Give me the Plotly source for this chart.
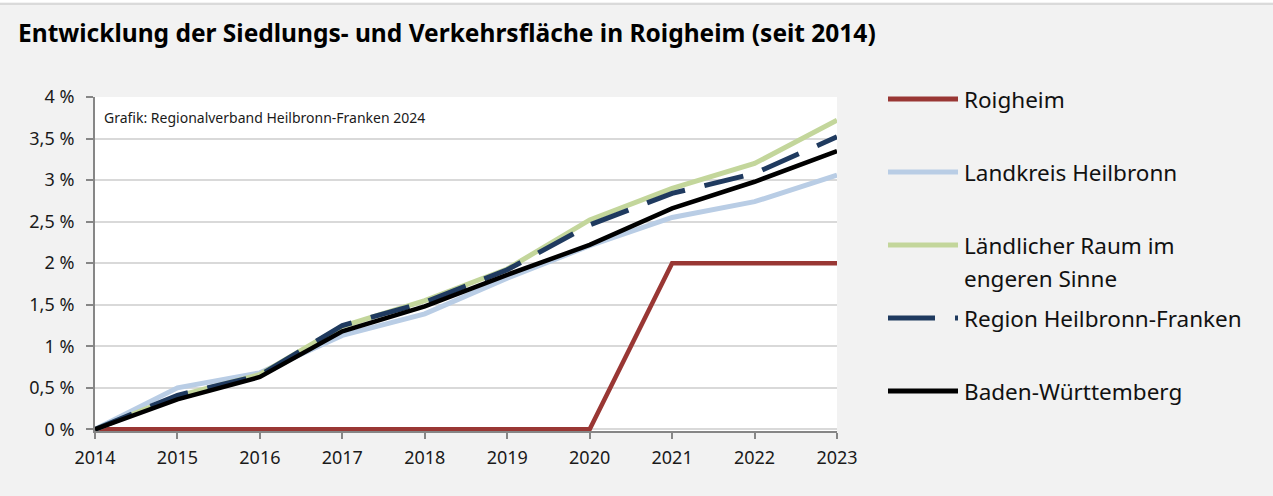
import plotly.graph_objects as go

# --- data -----------------------------------------------------------------
years = [2014, 2015, 2016, 2017, 2018, 2019, 2020, 2021, 2022, 2023]

series_names = [
    "Roigheim",
    "Landkreis Heilbronn",
    "Ländlicher Raum im engeren Sinne",
    "Region Heilbronn-Franken",
    "Baden-Württemberg",
]
roigheim = [0, 0, 0, 0, 0, 0, 0, 2.0, 2.0, 2.0]
landkreis_heilbronn = [0, 0.50, 0.68, 1.13, 1.39, 1.82, 2.21, 2.55, 2.74, 3.06]
laendlicher_raum = [0, 0.40, 0.66, 1.24, 1.55, 1.93, 2.52, 2.90, 3.20, 3.72]
region_hnf = [0, 0.41, 0.65, 1.25, 1.53, 1.92, 2.46, 2.84, 3.08, 3.52]
baden_wuerttemberg = [0, 0.36, 0.63, 1.18, 1.48, 1.86, 2.22, 2.66, 2.98, 3.35]

y_tickvals = [0, 0.5, 1, 1.5, 2, 2.5, 3, 3.5, 4]
y_ticktext = ["0 %", "0,5 %", "1 %", "1,5 %", "2 %", "2,5 %", "3 %", "3,5 %", "4 %"]

# --- styling --------------------------------------------------------------
W, H = 1273, 496
FONT = "Noto Sans"
ML, MR, MT, MB = 95, 436, 97, 65
Y_MIN, Y_MAX = -0.02, 4.0

styles = [
    dict(color="#993734", width=4.5, dash="solid"),
    dict(color="#b9cde5", width=5, dash="solid"),
    dict(color="#c3d69b", width=5, dash="solid"),
    dict(color="#1f3a5f", width=5, dash="40px,20px"),
    dict(color="#000000", width=4.5, dash="solid"),
]
values = [roigheim, landkreis_heilbronn, laendlicher_raum, region_hnf, baden_wuerttemberg]

fig = go.Figure()
for name, vals, st in zip(series_names, values, styles):
    fig.add_trace(go.Scatter(
        x=years, y=vals, name=name, mode="lines",
        line=dict(color=st["color"], width=st["width"], dash=st["dash"]),
        showlegend=False, hoverinfo="x+y+name",
    ))

# pixel -> paper helpers for the hand-placed legend
plot_w = W - ML - MR
plot_h = H - MT - MB


def px_x(x):
    return (x - ML) / plot_w


def px_y(y):
    return (H - MB - y) / plot_h


shapes = [
    # thin strip along the top edge of the page
    dict(type="rect", xref="paper", yref="paper",
         x0=px_x(0), x1=px_x(W), y0=px_y(5), y1=px_y(2.5),
         fillcolor="#dadada", line=dict(width=0), layer="below"),
    dict(type="rect", xref="paper", yref="paper",
         x0=px_x(0), x1=px_x(W), y0=px_y(2.5), y1=px_y(0),
         fillcolor="#ffffff", line=dict(width=0), layer="below"),
]

legend_rows = [99, 172, 245, 318, 391]
legend_labels = [["Roigheim"], ["Landkreis Heilbronn"],
                 ["Ländlicher Raum im", "engeren Sinne"],
                 ["Region Heilbronn-Franken"], ["Baden-Württemberg"]]

annotations = [
    dict(text="<b>Entwicklung der Siedlungs- und Verkehrsfläche in Roigheim (seit 2014)</b>",
         xref="paper", yref="paper", x=px_x(16), y=px_y(32),
         xanchor="left", yanchor="middle", showarrow=False,
         font=dict(family=FONT, size=24.5, color="#000000")),
    dict(text="Grafik: Regionalverband Heilbronn-Franken 2024",
         xref="paper", yref="paper", x=px_x(102), y=px_y(117),
         xanchor="left", yanchor="middle", showarrow=False,
         font=dict(family=FONT, size=14, color="#1a1a1a")),
]

for row_y, labels, st in zip(legend_rows, legend_labels, styles):
    shapes.append(dict(
        type="line", xref="paper", yref="paper",
        x0=px_x(888), x1=px_x(958), y0=px_y(row_y), y1=px_y(row_y),
        line=dict(color=st["color"], width=5,
                  dash="47px,20px" if st["dash"] != "solid" else "solid"),
    ))
    for i, lab in enumerate(labels):
        annotations.append(dict(
            text=lab, xref="paper", yref="paper",
            x=px_x(962), y=px_y(row_y + 33 * i),
            xanchor="left", yanchor="middle", showarrow=False,
            font=dict(family=FONT, size=22.5, color="#111111"),
        ))

fig.update_layout(
    width=W, height=H,
    margin=dict(l=ML, r=MR, t=MT, b=MB, pad=0),
    paper_bgcolor="#f2f2f2",
    plot_bgcolor="#ffffff",
    font=dict(family=FONT, size=18, color="#1a1a1a"),
    shapes=shapes,
    annotations=annotations,
    showlegend=False,
)

fig.update_xaxes(
    range=[2014, 2023], tickvals=years, ticktext=[str(y) for y in years],
    showgrid=False, zeroline=False,
    showline=True, linecolor="#868686", linewidth=2,
    ticks="outside", ticklen=6, tickcolor="#868686", tickwidth=1.5,
    ticklabelstandoff=3,
    tickfont=dict(family=FONT, size=18, color="#1a1a1a"),
)
fig.update_yaxes(
    range=[Y_MIN, Y_MAX], tickvals=y_tickvals, ticktext=y_ticktext,
    showgrid=True, gridcolor="#d9d9d9", gridwidth=2, zeroline=False,
    showline=True, linecolor="#868686", linewidth=2,
    ticks="outside", ticklen=7, tickcolor="#868686", tickwidth=1.5,
    ticklabelstandoff=8,
    tickfont=dict(family=FONT, size=18, color="#1a1a1a"),
)

fig.write_html("out.html")
